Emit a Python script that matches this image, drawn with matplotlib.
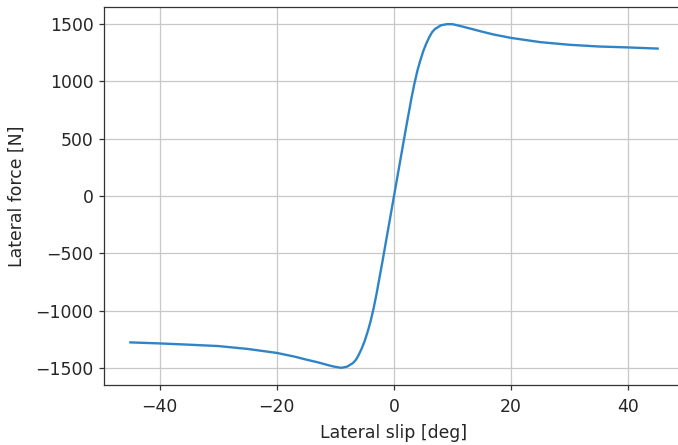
import matplotlib
matplotlib.use("Agg")
import matplotlib.pyplot as plt

# lateral force vs slip angle
slip_deg = [-45, -40, -35, -30, -25, -20, -17, -15, -13, -11, -10, -9, -8, -7,
            -6.5, -6, -5.5, -5, -4.5, -4, -3.5, -3, -2.5, -2, -1.5, -1, -0.5,
            0, 0.5, 1, 1.5, 2, 2.5, 3, 3.5, 4, 4.5, 5, 5.5, 6, 6.5, 7,
            8, 9, 10, 11, 13, 15, 17, 20, 25, 30, 35, 40, 45]
lateral_force = [-1278, -1287, -1298, -1310, -1335, -1370, -1402, -1428, -1452, -1480, -1492, -1500, -1490, -1458,
                 -1430, -1385, -1330, -1265, -1185, -1095, -985, -860, -720, -580, -435, -290, -145,
                 0, 145, 290, 435, 580, 720, 860, 985, 1095, 1185, 1265, 1330, 1385, 1430, 1458,
                 1490, 1500, 1500, 1488, 1462, 1435, 1410, 1380, 1343, 1320, 1305, 1297, 1287]

s = 1.57 * 0.72
plt.rcParams.update({
    "font.size": 12.4,
    "text.color": "#262626",
    "axes.labelcolor": "#262626",
    "xtick.color": "#333333",
    "ytick.color": "#333333",
    "xtick.labelcolor": "#262626",
    "ytick.labelcolor": "#262626",
    "axes.edgecolor": "#333333",
    "axes.linewidth": 0.8 * s,
    "grid.linewidth": 0.8 * s,
    "xtick.major.size": 3.5 * s,
    "ytick.major.size": 3.5 * s,
    "xtick.major.width": 0.8 * s,
    "ytick.major.width": 0.8 * s,
    "xtick.major.pad": 5.5,
})

fig = plt.figure(figsize=(6.78, 4.45), dpi=100)
ax = fig.add_axes([104 / 678, 60 / 445, 580 / 678, 378 / 445])
ax.plot(slip_deg, lateral_force, color="#2f84c8", linewidth=1.5 * s)
ax.grid(True, color="#c8c8c8")
ax.set_xlabel("Lateral slip [deg]", labelpad=6)
ax.set_ylabel("Lateral force [N]", labelpad=7)
ax.set_xlim(-49.5, 49.5)
ax.set_ylim(-1650, 1650)
ax.set_yticks([-1500, -1000, -500, 0, 500, 1000, 1500])
fig.savefig("out.png", dpi=100)
